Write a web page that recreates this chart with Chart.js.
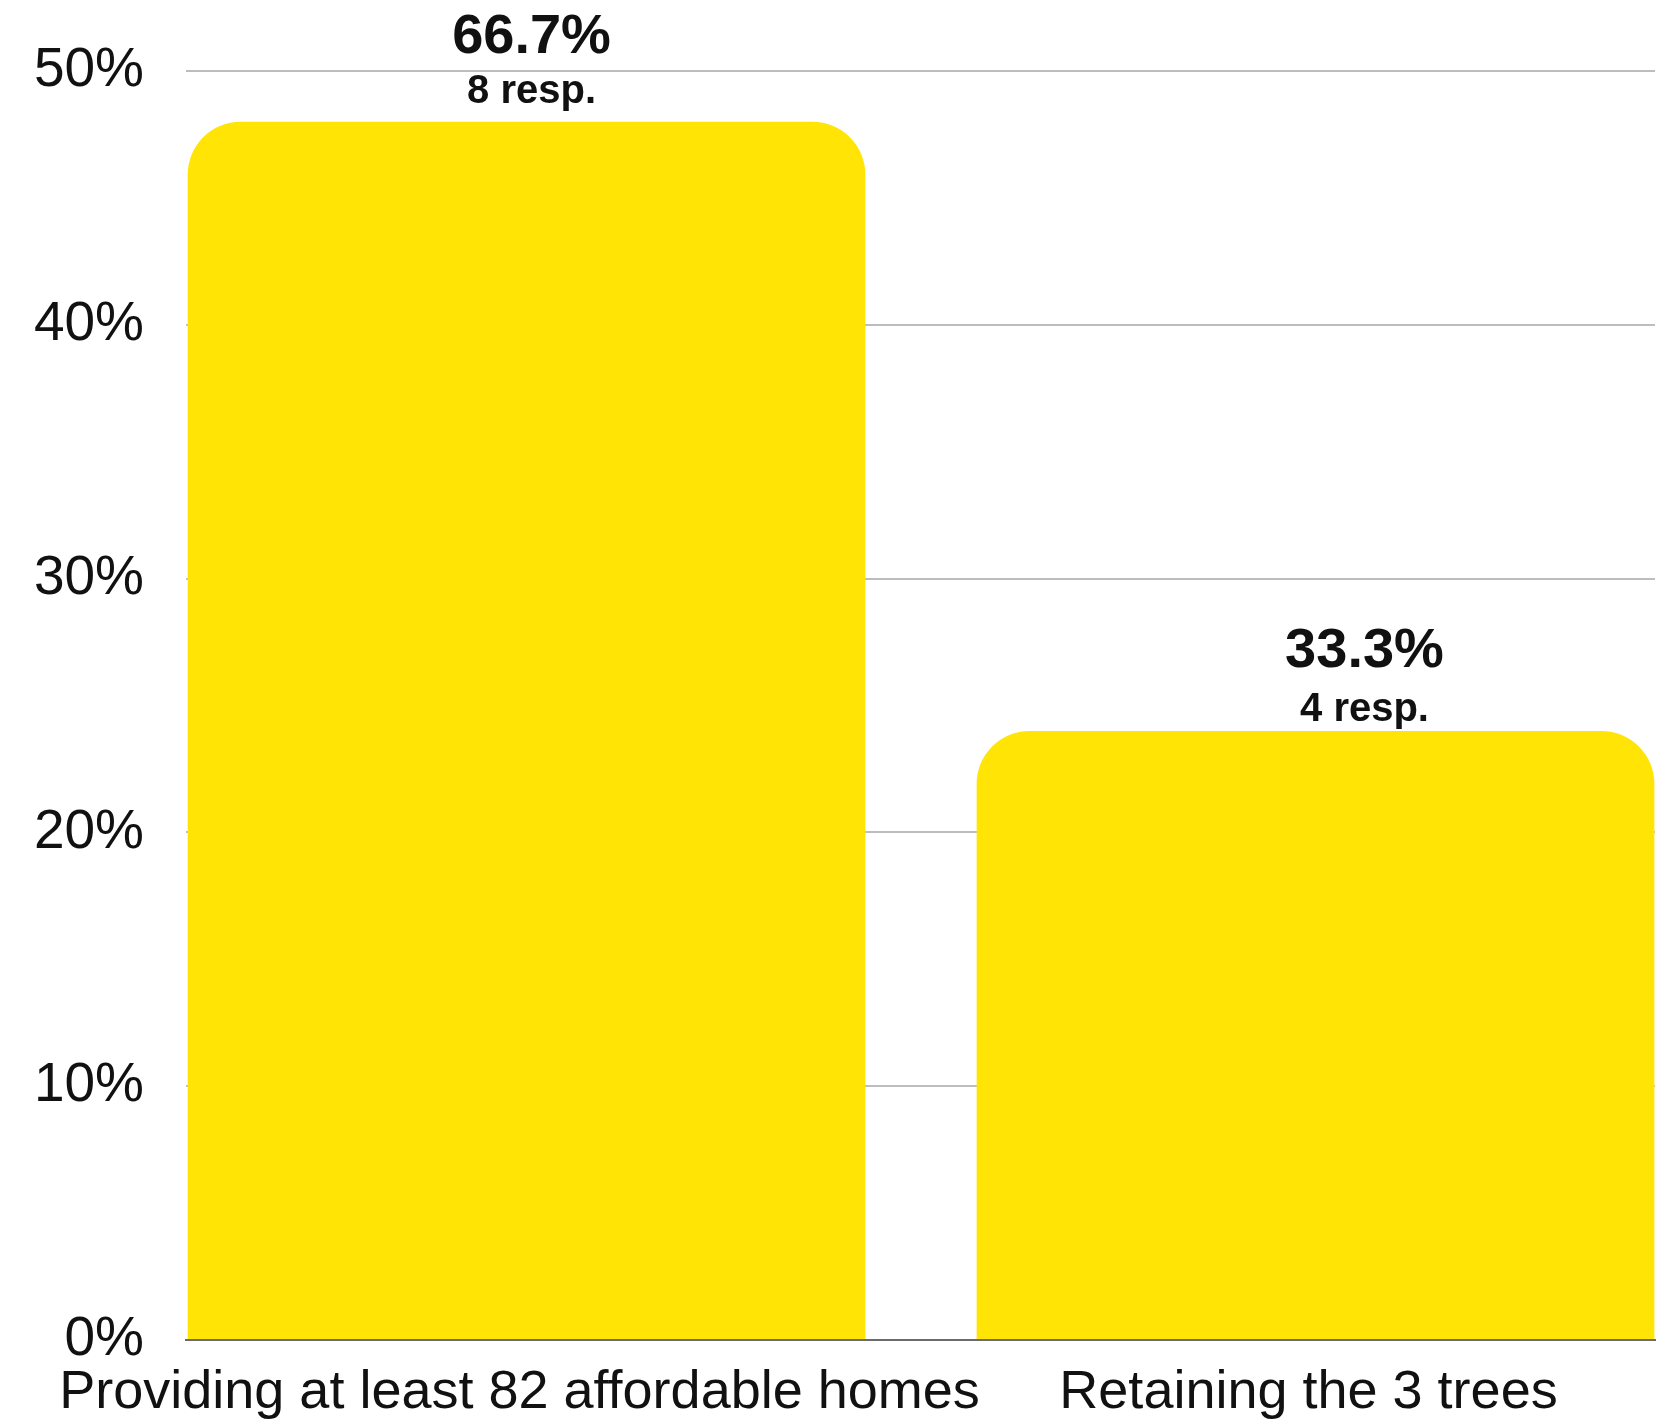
<!DOCTYPE html>
<html>
<head>
<meta charset="utf-8">
<script src="https://cdn.jsdelivr.net/npm/chart.js@4/dist/chart.umd.min.js"></script>
<style>
    body { margin: 0; background: #fff; }
    #wrap { width: 1661px; height: 1424px; position: relative; }
</style>
</head>
<body>
<div id="wrap"><canvas id="chart"></canvas></div>
<script>
// data
const categories = ['Providing at least 82 affordable homes', 'Retaining the 3 trees'];
const barHeights = [48, 24];            // bar tops as read on the 0-50% axis
const percentLabels = ['66.7%', '33.3%'];
const respCounts = [8, 4];
const yTicks = [0, 10, 20, 30, 40, 50];

// labels above each bar
const barLabels = {
    id: 'barLabels',
    afterDatasetsDraw(chart, args, opts) {
        const ctx = chart.ctx;
        const meta = chart.getDatasetMeta(0);
        ctx.save();
        ctx.fillStyle = '#111';
        ctx.textAlign = 'center';
        ctx.textBaseline = 'alphabetic';
        meta.data.forEach((bar, i) => {
            const x = bar.x + opts.shift[i];
            ctx.font = 'bold 56px "Liberation Sans", Arial, sans-serif';
            ctx.fillText(percentLabels[i], x, bar.y - opts.pctGap[i]);
            ctx.font = 'bold 40px "Liberation Sans", Arial, sans-serif';
            ctx.fillText(respCounts[i] + ' resp.', x, bar.y - opts.respGap[i]);
        });
        ctx.restore();
    }
};

new Chart(document.getElementById('chart'), {
    type: 'bar',
    data: {
        datasets: [{
            data: barHeights.map((v, i) => ({ x: i, y: v })),
            backgroundColor: '#ffe405',
            borderWidth: 0,
            borderRadius: { topLeft: 53, topRight: 53, bottomLeft: 0, bottomRight: 0 },
            borderSkipped: 'bottom',
            categoryPercentage: 1,
            barPercentage: 0.859
        }]
    },
    options: {
        responsive: true,
        maintainAspectRatio: false,
        animation: false,
        layout: { padding: { top: 71, right: 6, bottom: 0, left: 0 } },
        plugins: {
            legend: { display: false },
            tooltip: { enabled: false },
            barLabels: { shift: [5, 49], pctGap: [69, 64], respGap: [19, 10] }
        },
        scales: {
            x: {
                type: 'linear',
                offset: false,
                bounds: 'data',
                min: -0.4316,
                max: 1.4303,
                afterBuildTicks: scale => { scale.ticks = categories.map((c, i) => ({ value: i })); },
                afterFit: scale => { scale.height = 84; },
                grid: { display: false, drawTicks: false, offset: false },
                border: { display: true, color: '#6b6b6b', width: 2 },
                ticks: {
                    autoSkip: false,
                    maxRotation: 0,
                    padding: 21,
                    labelOffset: -7,
                    color: '#111',
                    font: { family: '"Liberation Sans", Arial, sans-serif', size: 54 },
                    callback: v => categories[v]
                }
            },
            y: {
                min: 0,
                max: 50,
                afterBuildTicks: scale => { scale.ticks = yTicks.map(v => ({ value: v })); },
                afterFit: scale => {
                    scale.width = 186;
                    scale.paddingTop = 0;
                    scale.paddingBottom = 0;
                },
                grid: {
                    drawTicks: false,
                    lineWidth: 2,
                    color: c => c.tick.value === 0 ? 'rgba(0,0,0,0)' : '#bdbdbd'
                },
                border: { display: false },
                ticks: {
                    padding: 42,
                    color: '#111',
                    font: { family: '"Liberation Sans", Arial, sans-serif', size: 55 },
                    callback: v => v + '%'
                }
            }
        }
    },
    plugins: [barLabels]
});
</script>
</body>
</html>
